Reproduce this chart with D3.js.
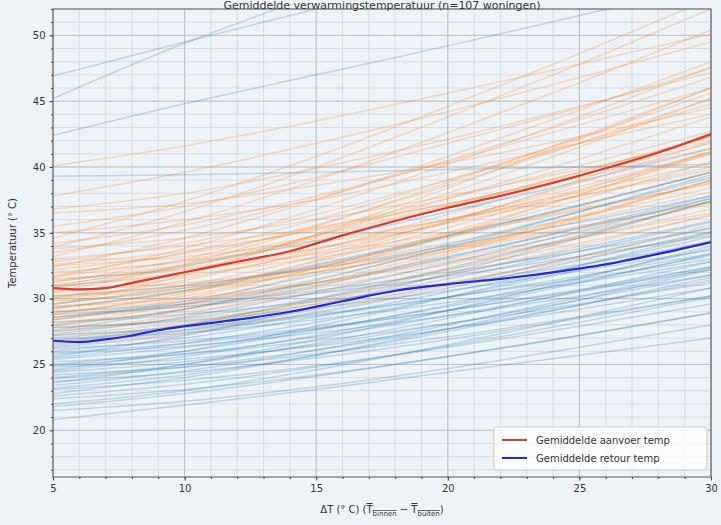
<!DOCTYPE html>
<html><head><meta charset="utf-8">
<script src="https://cdn.jsdelivr.net/npm/d3@7"></script>
<style>body{margin:0;background:#eef3f8;} svg{display:block;font-family:"DejaVu Sans",sans-serif;}</style>
</head><body><svg id="c" width="721" height="525"></svg>
<script>
const titleText = "Gemiddelde verwarmingstemperatuur (n=107 woningen)";
const xNodes = [5, 10, 15, 20, 25, 30];
const supplyLines = [
  [40.1,41.6,43.5,45.6,47.8,50.1],[37.8,39.6,41.8,44.2,46.8,49.5],[36.8,38.0,39.9,42.1,44.6,47.2],
  [36.5,37.2,38.6,40.3,42.3,44.5],[35.5,37.0,39.2,41.8,44.5,47.5],[35.0,36.0,37.5,39.6,41.8,44.0],
  [34.2,35.6,37.8,40.4,43.2,46.0],[33.8,34.6,36.0,37.8,39.8,42.0],[33.5,35.2,37.6,40.5,43.6,46.8],
  [33.0,34.0,35.4,37.2,39.2,41.4],[32.8,34.2,36.4,39.0,41.8,44.8],[32.5,33.2,34.4,36.0,37.8,39.8],
  [32.2,33.4,35.3,37.6,40.1,42.7],[32.0,32.8,34.2,36.0,38.1,40.3],[31.8,33.5,36.0,39.0,42.2,45.6],
  [31.5,32.2,33.4,35.0,36.8,38.7],[31.3,32.6,34.6,37.0,39.6,42.3],[31.0,31.8,33.1,34.8,36.7,38.8],
  [30.8,32.4,34.8,37.6,40.6,43.8],[30.6,31.2,32.3,33.8,35.5,37.3],[30.4,31.6,33.5,35.8,38.3,41.0],
  [30.2,31.0,32.4,34.2,36.2,38.4],[30.0,32.0,34.8,38.0,41.5,45.2],[29.8,30.6,32.0,33.8,35.9,38.1],
  [29.6,31.0,33.2,35.9,38.8,41.9],[29.4,30.0,31.2,32.8,34.6,36.5],[29.2,30.6,32.8,35.4,38.2,41.2],
  [29.0,29.8,31.2,33.0,35.0,37.2],[28.8,30.4,32.9,35.8,39.0,42.4],[28.6,29.4,30.8,32.6,34.6,36.8],
  [28.4,29.6,31.5,33.8,36.3,39.0],[28.2,29.0,30.4,32.2,34.2,36.3],[28.0,29.6,32.0,34.8,37.9,41.2],
  [27.8,28.4,29.6,31.2,33.0,35.0],[27.5,28.8,30.9,33.4,36.1,39.0],[27.2,28.2,29.8,31.8,34.0,36.4],
  [26.8,28.0,29.9,32.2,34.7,37.4],[26.4,27.4,29.0,31.0,33.2,35.6],[31.6,33.8,36.8,40.2,43.8,47.6],
  [30.9,32.0,33.8,36.0,38.5,41.1],[32.4,34.6,37.5,40.8,44.3,48.0],[29.9,31.4,33.7,36.4,39.3,42.4],
  [31.2,33.0,35.6,38.6,41.8,45.2],[30.5,32.6,35.5,38.8,42.3,46.0],[33.2,35.8,39.0,42.6,46.4,50.4],
  [34.6,37.4,40.8,44.6,48.6,52.8],[29.5,31.8,34.9,38.4,42.1,46.0],[28.9,30.2,32.3,34.8,37.5,40.4],
  [30.1,30.8,32.0,33.6,35.4,37.4],[27.9,29.2,31.2,33.6,36.2,39.0],[32.6,33.6,35.2,37.2,39.4,41.8],
  [31.7,32.9,34.8,37.1,39.6,42.3],[29.3,30.5,32.4,34.6,37.0,39.6],[33.9,36.6,40.0,43.8,47.8,52.0],
  [28.5,30.0,32.3,35.0,37.9,41.0],[31.4,32.3,33.8,35.7,37.8,40.0]
];
const returnLines = [
  [46.9,49.5,52.0,54.5,57.0,59.0],[45.2,49.4,53.0,56.0,58.0,60.0],[42.4,44.8,47.0,49.2,51.5,53.8],
  [39.3,39.4,39.6,39.8,40.0,40.2],
  [31.0,32.5,34.4,36.6,38.9,41.4],[30.2,31.0,32.3,34.0,35.8,37.8],[29.6,30.8,32.6,34.8,37.1,39.6],
  [29.0,29.6,30.6,32.0,33.6,35.3],[28.6,29.6,31.2,33.2,35.3,37.6],[28.2,28.8,29.8,31.1,32.6,34.2],
  [28.0,29.2,31.0,33.1,35.4,37.8],[27.8,28.3,29.3,30.6,32.1,33.7],[27.5,28.5,30.0,31.8,33.8,35.9],
  [27.2,27.8,28.8,30.1,31.5,33.0],[27.0,28.0,29.6,31.5,33.6,35.8],[26.8,27.4,28.4,29.7,31.2,32.8],
  [26.5,27.6,29.2,31.1,33.2,35.4],[26.2,26.8,27.8,29.1,30.6,32.2],[26.0,27.0,28.6,30.5,32.5,34.7],
  [25.8,26.4,27.4,28.7,30.2,31.8],[25.5,26.6,28.2,30.1,32.2,34.4],[25.2,25.8,26.8,28.1,29.6,31.2],
  [25.0,26.0,27.6,29.5,31.6,33.8],[24.8,25.4,26.4,27.7,29.2,30.8],[24.5,25.6,27.2,29.1,31.2,33.4],
  [24.2,24.8,25.8,27.1,28.6,30.2],[24.0,25.0,26.6,28.5,30.6,32.8],[23.7,24.4,25.5,26.9,28.5,30.2],
  [23.4,24.5,26.1,28.0,30.1,32.3],[23.1,23.8,24.9,26.3,27.9,29.6],[22.8,24.0,25.7,27.7,29.9,32.2],
  [22.4,23.1,24.2,25.6,27.2,28.9],[22.0,23.0,24.6,26.5,28.6,30.8],[21.5,22.2,23.3,24.7,26.3,28.0],
  [20.8,21.9,23.1,24.4,25.7,27.0],[21.8,22.8,24.1,25.6,27.2,28.9],[27.6,29.2,31.4,33.9,36.6,39.4],
  [26.6,28.0,30.0,32.3,34.8,37.4],[25.6,27.2,29.4,31.9,34.6,37.4],[24.6,26.0,27.9,30.1,32.5,35.0],
  [23.6,25.0,26.9,29.1,31.5,34.0],[28.4,29.8,31.8,34.1,36.6,39.2],[26.9,27.6,28.7,30.1,31.7,33.4],
  [25.9,26.6,27.7,29.1,30.7,32.4],[24.9,25.8,27.1,28.7,30.5,32.4],[23.9,24.8,26.1,27.7,29.5,31.4],
  [27.3,28.6,30.5,32.7,35.1,37.6],[29.3,30.6,32.5,34.7,37.1,39.6],[25.4,26.3,27.7,29.4,31.3,33.3],
  [24.4,25.2,26.5,28.1,29.9,31.8],[26.3,27.3,28.9,30.8,32.9,35.1],[23.2,24.2,25.7,27.5,29.5,31.6],
  [22.6,23.5,24.8,26.4,28.2,30.1],[28.8,29.4,30.4,31.7,33.2,34.8]
];
const meanX = [5,6,7,8,9,10,12,14,16,18,20,22,24,26,28,30];
const meanSupply = [30.8,30.7,30.8,31.2,31.6,32.0,32.8,33.6,34.8,35.9,36.9,37.8,38.8,39.9,41.1,42.5];
const meanReturn = [26.8,26.7,26.9,27.2,27.6,27.9,28.4,29.0,29.8,30.6,31.1,31.5,32.0,32.6,33.4,34.3];
const xTicks = [5,10,15,20,25,30];
const yTicks = [20,25,30,35,40,45,50];
const legendLabels = ["Gemiddelde aanvoer temp", "Gemiddelde retour temp"];
const yLabel = "Temperatuur (° C)";

const L = 53, R = 711, T = 9, B = 477;
const svg = d3.select("#c");
svg.append("rect").attr("width",721).attr("height",525).attr("fill","#eef3f8");
const x = d3.scaleLinear().domain([5,30]).range([L,R]);
const y = d3.scaleLinear().domain([16.45,52.0]).range([B,T]);

svg.append("defs").append("clipPath").attr("id","clip")
  .append("rect").attr("x",L).attr("y",T).attr("width",R-L).attr("height",B-T);

// grid
const g = svg.append("g");
const minorX = d3.range(5,31,1), minorY = d3.range(17,53,1);
g.selectAll(".mx").data(minorX).join("line").attr("x1",d=>x(d)).attr("x2",d=>x(d)).attr("y1",T).attr("y2",B)
  .attr("stroke","#d0d5db").attr("stroke-width",0.7);
g.selectAll(".my").data(minorY.filter(d=>y(d)>=T)).join("line").attr("y1",d=>y(d)).attr("y2",d=>y(d)).attr("x1",L).attr("x2",R)
  .attr("stroke","#d0d5db").attr("stroke-width",0.7);
g.selectAll(".Mx").data(xTicks).join("line").attr("x1",d=>x(d)).attr("x2",d=>x(d)).attr("y1",T).attr("y2",B)
  .attr("stroke","#b9bec4").attr("stroke-width",0.9);
g.selectAll(".My").data(yTicks).join("line").attr("y1",d=>y(d)).attr("y2",d=>y(d)).attr("x1",L).attr("x2",R)
  .attr("stroke","#b9bec4").attr("stroke-width",0.9);

// lines
const line = d3.line().x((d,i)=>x(xNodes[i])).y(d=>y(d)).curve(d3.curveMonotoneX);
const lg = svg.append("g").attr("clip-path","url(#clip)");
const n = Math.max(supplyLines.length, returnLines.length);
for (let i=0;i<n;i++){
  if (supplyLines[i]) lg.append("path").attr("d",line(supplyLines[i])).attr("fill","none")
    .attr("stroke","#ff7f0e").attr("stroke-opacity",0.24).attr("stroke-width",1.5);
  if (returnLines[i]) lg.append("path").attr("d",line(returnLines[i])).attr("fill","none")
    .attr("stroke","#1f77b4").attr("stroke-opacity",0.24).attr("stroke-width",1.5);
}
const mline = d3.line().x((d,i)=>x(meanX[i])).y(d=>y(d)).curve(d3.curveMonotoneX);
lg.append("path").attr("d",mline(meanSupply)).attr("fill","none").attr("stroke","#dc3a2a").attr("stroke-width",2.2);
lg.append("path").attr("d",mline(meanReturn)).attr("fill","none").attr("stroke","#2a2ac8").attr("stroke-width",2.2);

// axes
const xAxis = d3.axisBottom(x).tickValues(xTicks).tickSize(3.5).tickPadding(4).tickFormat(d3.format("d"));
const xMinor = d3.axisBottom(x).tickValues(minorX).tickSize(2).tickFormat("");
const yAxis = d3.axisLeft(y).tickValues(yTicks).tickSize(3.5).tickPadding(4).tickFormat(d3.format("d"));
const yMinor = d3.axisLeft(y).tickValues(minorY.filter(d=>y(d)>=T)).tickSize(2).tickFormat("");
function style(sel){ sel.selectAll("path").remove(); sel.selectAll("line").attr("stroke","#444");
  sel.selectAll("text").attr("fill","#333").attr("font-size",10).attr("font-family","DejaVu Sans, sans-serif"); }
svg.append("g").attr("transform",`translate(0,${B})`).call(xMinor).call(style);
svg.append("g").attr("transform",`translate(0,${B})`).call(xAxis).call(style);
svg.append("g").attr("transform",`translate(${L},0)`).call(yMinor).call(style);
svg.append("g").attr("transform",`translate(${L},0)`).call(yAxis).call(style);
svg.append("rect").attr("x",L).attr("y",T).attr("width",R-L).attr("height",B-T)
  .attr("fill","none").attr("stroke","#555").attr("stroke-width",1);

// title
svg.append("text").attr("x",(L+R)/2).attr("y",8.5).attr("text-anchor","middle").attr("font-size",11)
  .attr("fill","#333").text(titleText);
// y label
svg.append("text").attr("transform",`translate(16,${(T+B)/2}) rotate(-90)`).attr("text-anchor","middle")
  .attr("font-size",10).attr("fill","#333").text(yLabel);
// x label
const xl = svg.append("text").attr("x",(L+R)/2).attr("y",513).attr("text-anchor","middle").attr("font-size",10).attr("fill","#333");
xl.append("tspan").text("ΔT (° C) (");
xl.append("tspan").attr("text-decoration","overline").text("T");
xl.append("tspan").attr("dy",3).attr("font-size",7).attr("text-decoration","overline").text("binnen");
xl.append("tspan").attr("dy",-3).text(" − ");
xl.append("tspan").attr("text-decoration","overline").text("T");
xl.append("tspan").attr("dy",3).attr("font-size",7).attr("text-decoration","overline").text("buiten");
xl.append("tspan").attr("dy",-3).text(")");

// legend
const leg = svg.append("g");
leg.append("rect").attr("x",494).attr("y",427).attr("width",213).attr("height",43).attr("rx",3)
  .attr("fill","#ffffff").attr("fill-opacity",0.8).attr("stroke","#cccccc");
const legColors = ["#dc3a2a","#2a2ac8"];
legendLabels.forEach((lab,i)=>{
  const yy = 440 + i*18;
  leg.append("line").attr("x1",502).attr("x2",527).attr("y1",yy).attr("y2",yy).attr("stroke",legColors[i]).attr("stroke-width",2);
  leg.append("text").attr("x",536).attr("y",yy+3.5).attr("font-size",10).attr("fill","#333").text(lab);
});
</script></body></html>
